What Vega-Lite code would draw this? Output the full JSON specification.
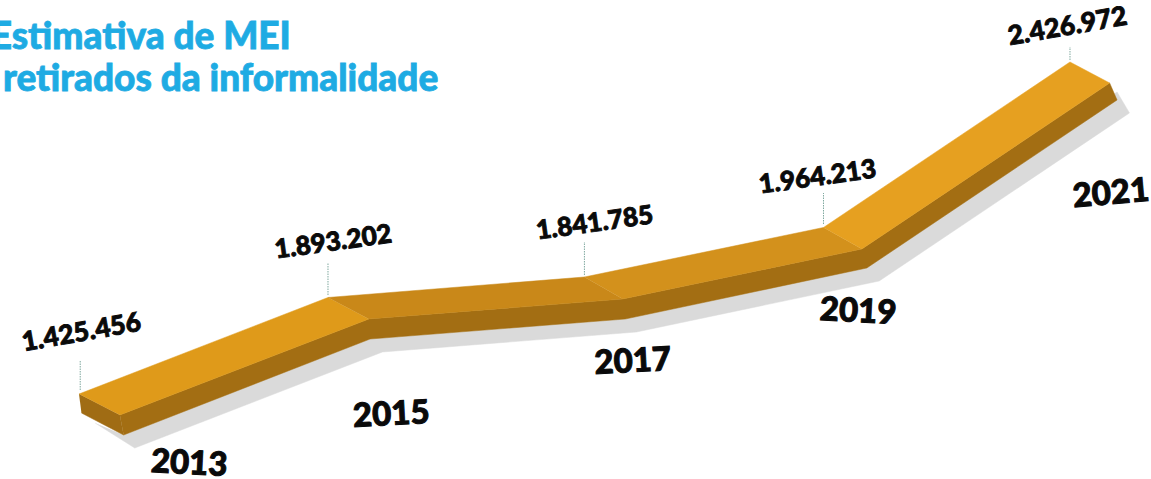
{"$schema":"https://vega.github.io/schema/vega-lite/v6.json","width":1151,"height":479,"autosize":{"type":"none"},"padding":0,"background":"white","view":{"stroke":null},
"datasets":{
"faces":[
{"face":"sombra","n":1,"ano":2013.13,"mei":1338.0},{"face":"sombra","n":2,"ano":2013.45,"mei":1262.6},{"face":"sombra","n":3,"ano":2015.45,"mei":1552.2},{"face":"sombra","n":4,"ano":2017.50,"mei":1612.5},{"face":"sombra","n":5,"ano":2019.46,"mei":1766.4},{"face":"sombra","n":6,"ano":2021.48,"mei":2273.2},{"face":"sombra","n":7,"ano":2021.38,"mei":2336.5},{"face":"sombra","n":8,"ano":2019.36,"mei":1805.6},{"face":"sombra","n":9,"ano":2017.41,"mei":1651.7},{"face":"sombra","n":10,"ano":2015.35,"mei":1591.4},{"face":"sombra","n":11,"ano":2013.36,"mei":1301.8},
{"face":"ponta","n":1,"ano":2013.00,"mei":1425.5},{"face":"ponta","n":2,"ano":2013.33,"mei":1362.2},{"face":"ponta","n":3,"ano":2013.36,"mei":1301.8},{"face":"ponta","n":4,"ano":2013.02,"mei":1368.2},
{"face":"lateral","n":1,"ano":2013.33,"mei":1362.2},{"face":"lateral","n":2,"ano":2015.34,"mei":1651.7},{"face":"lateral","n":3,"ano":2017.39,"mei":1712.1},{"face":"lateral","n":4,"ano":2019.32,"mei":1862.9},{"face":"lateral","n":5,"ano":2021.32,"mei":2363.7},{"face":"lateral","n":6,"ano":2021.38,"mei":2312.4},{"face":"lateral","n":7,"ano":2019.36,"mei":1805.6},{"face":"lateral","n":8,"ano":2017.41,"mei":1651.7},{"face":"lateral","n":9,"ano":2015.35,"mei":1591.4},{"face":"lateral","n":10,"ano":2013.36,"mei":1301.8},
{"face":"2013-2015","n":1,"ano":2013.00,"mei":1425.5},{"face":"2013-2015","n":2,"ano":2015.01,"mei":1716.6},{"face":"2013-2015","n":3,"ano":2015.34,"mei":1651.7},{"face":"2013-2015","n":4,"ano":2013.33,"mei":1362.2},
{"face":"2015-2017","n":1,"ano":2015.01,"mei":1716.6},{"face":"2015-2017","n":2,"ano":2017.08,"mei":1778.4},{"face":"2015-2017","n":3,"ano":2017.39,"mei":1712.1},{"face":"2015-2017","n":4,"ano":2015.34,"mei":1651.7},
{"face":"2017-2019","n":1,"ano":2017.08,"mei":1778.4},{"face":"2017-2019","n":2,"ano":2019.01,"mei":1927.8},{"face":"2017-2019","n":3,"ano":2019.32,"mei":1862.9},{"face":"2017-2019","n":4,"ano":2017.39,"mei":1712.1},
{"face":"2019-2021","n":1,"ano":2019.01,"mei":1927.8},{"face":"2019-2021","n":2,"ano":2021.00,"mei":2427.0},{"face":"2019-2021","n":3,"ano":2021.32,"mei":2363.7},{"face":"2019-2021","n":4,"ano":2019.32,"mei":1862.9}
],
"marks":[
{"year":"2013","valor":"1.425.456","ano":2013.01,"base":1437.6,"topo":1528.1,"valorAno":2013.02,"valorMei":1609.5,"anoX":2013.89,"anoY":1220.4},
{"year":"2015","valor":"1.893.202","ano":2015.01,"base":1724.1,"topo":1820.7,"valorAno":2015.05,"valorMei":1890.1,"anoX":2015.52,"anoY":1368.2},
{"year":"2017","valor":"1.841.785","ano":2017.08,"base":1784.5,"topo":1884.0,"valorAno":2017.16,"valorMei":1947.4,"anoX":2017.47,"anoY":1528.1},
{"year":"2019","valor":"1.964.213","ano":2019.01,"base":1938.3,"topo":2031.8,"valorAno":2018.96,"valorMei":2086.1,"anoX":2019.29,"anoY":1678.9},
{"year":"2021","valor":"2.426.972","ano":2021.00,"base":2433.0,"topo":2472.3,"valorAno":2020.98,"valorMei":2532.6,"anoX":2021.33,"anoY":2031.8}
],
"title":[
{"t":"Estimativa de MEI","ano":2014.71,"mei":2502.4},
{"t":"retirados da informalidade","ano":2015.90,"mei":2375.7}
]},
"encoding":{},
"layer":[
{"data":{"name":"faces"},"mark":{"type":"line","strokeWidth":0.5,"clip":false},
"encoding":{
"x":{"field":"ano","type":"quantitative","scale":{"domain":[2012.3623,2021.6539],"nice":false,"zero":false},"axis":null},
"y":{"field":"mei","type":"quantitative","scale":{"domain":[1169.1,2614.0],"nice":false,"zero":false},"axis":null},
"order":{"field":"n"},
"detail":{"field":"face"},
"fill":{"field":"face","type":"nominal","legend":null,"sort":null,"scale":{"domain":["sombra","ponta","lateral","2013-2015","2015-2017","2017-2019","2019-2021"],"range":["#DADADA","#A06C14","#A36E13","#DF9A1A","#C98819","#D3911C","#E6A020"]}},
"stroke":{"field":"face","type":"nominal","legend":null,"sort":null,"scale":{"domain":["sombra","ponta","lateral","2013-2015","2015-2017","2017-2019","2019-2021"],"range":["#DADADA","#A06C14","#A36E13","#DF9A1A","#C98819","#D3911C","#E6A020"]}}
}},
{"data":{"name":"marks"},"mark":{"type":"rule","color":"#7FA89F","strokeWidth":1,"strokeDash":[1.5,1]},
"encoding":{"x":{"field":"ano","type":"quantitative"},"y":{"field":"base","type":"quantitative"},"y2":{"field":"topo"}}},
{"data":{"name":"marks"},"transform":[{"filter":"datum.year=='2013'||datum.year=='2021'"}],"mark":{"type":"text","font":"Lato","fontWeight":900,"fontSize":26.5,"color":"#0A0A0A","stroke":"#0A0A0A","strokeWidth":0.9,"angle":-10,"baseline":"middle","align":"center"},
"encoding":{"x":{"field":"valorAno","type":"quantitative"},"y":{"field":"valorMei","type":"quantitative"},"text":{"field":"valor"}}},
{"data":{"name":"marks"},"transform":[{"filter":"datum.year=='2015'||datum.year=='2017'||datum.year=='2019'"}],"mark":{"type":"text","font":"Lato","fontWeight":900,"fontSize":26,"color":"#0A0A0A","stroke":"#0A0A0A","strokeWidth":0.9,"angle":-8,"baseline":"middle","align":"center","dy":2.5},
"encoding":{"x":{"field":"valorAno","type":"quantitative"},"y":{"field":"valorMei","type":"quantitative"},"text":{"field":"valor"}}},
{"data":{"name":"marks"},"transform":[{"filter":"datum.year=='2013'||datum.year=='2019'"}],"mark":{"type":"text","font":"Lato","fontWeight":900,"fontSize":33,"color":"#0A0A0A","stroke":"#0A0A0A","strokeWidth":1,"angle":3,"baseline":"middle","align":"center","dy":2},
"encoding":{"x":{"field":"anoX","type":"quantitative"},"y":{"field":"anoY","type":"quantitative"},"text":{"field":"year"}}},
{"data":{"name":"marks"},"transform":[{"filter":"datum.year=='2015'||datum.year=='2017'"}],"mark":{"type":"text","font":"Lato","fontWeight":900,"fontSize":33,"color":"#0A0A0A","stroke":"#0A0A0A","strokeWidth":1,"angle":-3,"baseline":"middle","align":"center","dy":2},
"encoding":{"x":{"field":"anoX","type":"quantitative"},"y":{"field":"anoY","type":"quantitative"},"text":{"field":"year"}}},
{"data":{"name":"marks"},"transform":[{"filter":"datum.year=='2021'"}],"mark":{"type":"text","font":"Lato","fontWeight":900,"fontSize":33,"color":"#0A0A0A","stroke":"#0A0A0A","strokeWidth":1,"angle":-5,"baseline":"middle","align":"center","dy":1},
"encoding":{"x":{"field":"anoX","type":"quantitative"},"y":{"field":"anoY","type":"quantitative"},"text":{"field":"year"}}},
{"data":{"name":"title"},"mark":{"type":"text","font":"Lato","fontWeight":900,"fontSize":37,"color":"#1EABE3","stroke":"#1EABE3","strokeWidth":0.8,"align":"right","baseline":"middle","dy":1},
"encoding":{"x":{"field":"ano","type":"quantitative"},"y":{"field":"mei","type":"quantitative"},"text":{"field":"t"}}}
]}
